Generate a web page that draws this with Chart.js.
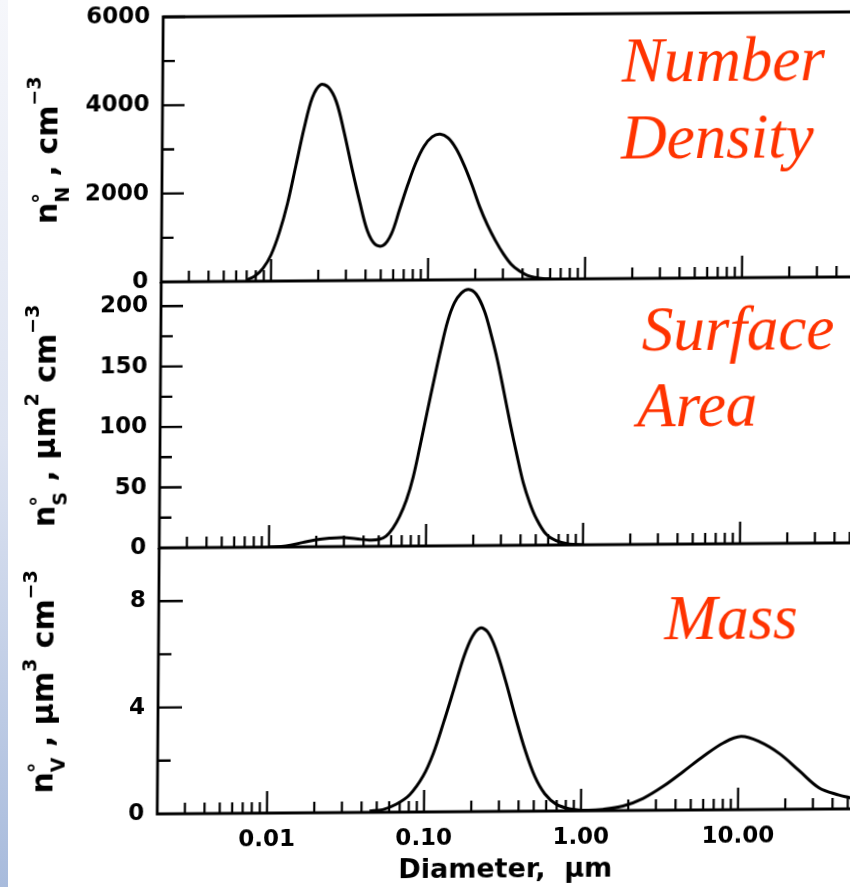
<!DOCTYPE html>
<html><head><meta charset="utf-8">
<script src="https://cdn.jsdelivr.net/npm/chart.js@4.4.0/dist/chart.umd.min.js"></script>
<style>
html,body{margin:0;padding:0;background:#fff;width:850px;height:887px;overflow:hidden;}
#strip{position:absolute;left:0;top:0;width:8px;height:887px;background:linear-gradient(#f6f7fb,#dde3f1 50%,#a8bbdc);}
#wrap{position:absolute;left:0;top:0;width:857px;height:887px;transform-origin:425px 443px;transform:matrix(1,-0.0073,-0.0075,1,0,0);}
canvas.c{position:absolute;left:0;top:0;}
</style></head><body>
<div id="strip"></div>
<div id="wrap">
<canvas id="c1" class="c" width="857" height="887"></canvas>
<canvas id="c2" class="c" width="857" height="887"></canvas>
<canvas id="c3" class="c" width="857" height="887"></canvas>
</div>
<script>
// ---- data (diameter in µm) ----
const diamN = [0.00703,0.00791,0.00889,0.0100,0.01125,0.01265,0.01423,0.0160,0.01799,0.02023,0.02275,0.02559,0.02877,0.03236,0.03639,0.04093,0.04603,0.05176,0.05821,0.06546,0.07362,0.08279,0.09311,0.1047,0.1178,0.1324,0.1489,0.1675,0.1884,0.2118,0.2382,0.2679,0.3013,0.3388,0.3811,0.4285,0.4819,0.5420,0.6095];
const numberDensity = [30,120,290,600,1100,1760,2610,3460,4150,4440,4380,4050,3360,2550,1790,1120,810,790,1050,1600,2160,2660,3030,3240,3300,3210,2970,2600,2150,1650,1230,880,580,340,190,90,40,12,0];

const diamS = [0.01004,0.01283,0.01638,0.01994,0.02424,0.02946,0.03587,0.04358,0.05042,0.05568,0.06138,0.06765,0.07464,0.08226,0.09075,0.1,0.1104,0.1218,0.1343,0.1480,0.1633,0.1816,0.2033,0.2298,0.2534,0.2797,0.3084,0.3403,0.3753,0.4133,0.4560,0.5031,0.5821,0.6745,0.8204,0.9977];
const surfaceArea = [0,0.8,3.6,5.8,7.0,7.5,6.4,5.2,5.8,8.4,14.8,24.5,38,57,83,110,137,163,186,201,209,212,208,194,175,153,127,100,75,52,35,22,9,3.6,0.6,0];

const diamV = [0.0450,0.0547,0.0666,0.0809,0.0984,0.1140,0.1319,0.1529,0.1770,0.2001,0.2237,0.2496,0.2819,0.3266,0.3780,0.4376,0.5065,0.5871,0.6968,0.8475,1.082,1.381,1.853,2.484,3.333,4.470,5.995,8.043,10.38,13.58,18.22,24.42,32.74,43.92,51.6,55];
const massVolume = [0.05,0.1,0.3,0.65,1.35,2.2,3.35,4.6,5.85,6.6,6.9,6.75,6.1,4.9,3.55,2.3,1.3,0.65,0.25,0.08,0.02,0.05,0.17,0.45,0.9,1.45,2.02,2.52,2.75,2.55,2.1,1.45,0.8,0.52,0.42,0.36];

const xTickValues = [0.01, 0.1, 1, 10];
const xTickLabels = ['0.01', '0.10', '1.00', '10.00'];
const yTicksN = [0, 2000, 4000, 6000];
const yMinorN = [1000, 3000, 5000];
const yTicksS = [0, 50, 100, 150, 200];
const yMinorS = [25, 75, 125, 175];
const yTicksV = [0, 4, 8];
const yMinorV = [2, 6];
const xAxisTitle = 'Diameter,  µm';

const FONT = "'DejaVu Sans', sans-serif";
const RED = '#ff3300';

function drawRotTitle(ctx, baseX, centerY, parts) {
  ctx.save();
  ctx.translate(baseX, centerY);
  ctx.rotate(-Math.PI / 2);
  ctx.fillStyle = '#000';
  ctx.textBaseline = 'alphabetic';
  ctx.textAlign = 'left';
  let total = 0;
  parts.forEach(p => { ctx.font = 'bold ' + p.s + 'px ' + FONT; p.w = ctx.measureText(p.t).width; total += p.w; });
  let x = -total / 2;
  parts.forEach(p => {
    ctx.font = 'bold ' + p.s + 'px ' + FONT;
    ctx.fillText(p.t, x, p.dy || 0);
    if (p.ring) {
      ctx.font = 'bold 22px ' + FONT;
      ctx.fillText('°', x - 1, -9);
    }
    x += p.w;
  });
  ctx.restore();
}

const framePlugin = {
  id: 'frame',
  afterDatasetsDraw(chart, args, opts) {
    const ctx = chart.ctx;
    const a = chart.chartArea;
    const xs = chart.scales.x, ys = chart.scales.y;
    ctx.save();
    ctx.strokeStyle = '#000';
    ctx.lineCap = 'butt';
    ctx.lineWidth = 2.8;
    ctx.beginPath();
    ctx.moveTo(a.left, a.top - (opts.topBorder ? 1.4 : 0));
    ctx.lineTo(a.left, a.bottom + 1.4);
    ctx.moveTo(a.left - 1.4, a.bottom);
    ctx.lineTo(a.right, a.bottom);
    if (opts.topBorder) { ctx.moveTo(a.left - 1.4, a.top); ctx.lineTo(a.right, a.top); }
    ctx.stroke();
    ctx.lineWidth = 2.4;
    ctx.beginPath();
    opts.yMajor.forEach(v => {
      if (v === ys.min) return;
      const y = ys.getPixelForValue(v);
      ctx.moveTo(a.left, y); ctx.lineTo(a.left + opts.yMajorLen, y);
    });
    opts.yMinor.forEach(v => {
      const y = ys.getPixelForValue(v);
      ctx.moveTo(a.left, y); ctx.lineTo(a.left + opts.yMinorLen, y);
    });
    ctx.stroke();
    ctx.lineWidth = 2.2;
    ctx.beginPath();
    for (let e = -3; e <= 2; e++) {
      for (let m = 1; m <= 9; m++) {
        const v = m * Math.pow(10, e);
        if (v <= xs.min * 1.001 || v > xs.max) continue;
        const x = xs.getPixelForValue(v);
        const len = m === 1 ? 22 : 11;
        ctx.moveTo(x, a.bottom); ctx.lineTo(x, a.bottom - len);
      }
    }
    ctx.stroke();
    ctx.restore();
    drawRotTitle(ctx, 55, (a.top + a.bottom) / 2, opts.title);
    ctx.save();
    ctx.fillStyle = RED;
    ctx.font = "italic 63px 'Liberation Serif', 'Times New Roman', serif";
    ctx.textBaseline = 'alphabetic';
    ctx.textAlign = 'left';
    opts.label.forEach(l => ctx.fillText(l.t, l.x, l.y));
    ctx.restore();
  }
};

function makePanel(id, xsData, ysData, cfg) {
  return new Chart(document.getElementById(id), {
    type: 'line',
    data: { datasets: [{
      data: xsData.map((x, i) => ({ x: x, y: ysData[i] })),
      borderColor: '#000', borderWidth: 3, pointRadius: 0,
      tension: 0.35, fill: false
    }] },
    options: {
      responsive: false, animation: false, events: [],
      layout: { padding: { left: 0, right: 0, top: cfg.top, bottom: cfg.bottom } },
      plugins: {
        legend: { display: false }, tooltip: { enabled: false },
        frame: cfg.frame
      },
      scales: {
        x: {
          type: 'logarithmic', min: 0.002, max: 55,
          afterFit(s) { s.height = cfg.xh; s.paddingLeft = 0; s.paddingRight = 0; },
          afterBuildTicks(s) { s.ticks = xTickValues.map(v => ({ value: v })); },
          grid: { display: false, drawTicks: false },
          border: { display: false },
          ticks: {
            display: cfg.showX, autoSkip: false, maxRotation: 0, minRotation: 0, padding: 13,
            color: '#000', font: { family: FONT, size: 23, weight: 'bold' },
            callback: (v) => { const i = xTickValues.indexOf(v); return i >= 0 ? xTickLabels[i] : ''; }
          },
          title: {
            display: cfg.showX, text: xAxisTitle, color: '#000',
            font: { family: FONT, size: 27, weight: 'bold' }, padding: { top: 0, bottom: 0 }
          }
        },
        y: {
          type: 'linear', min: 0, max: cfg.ymax,
          afterFit(s) { s.width = 160; s.paddingTop = 0; s.paddingBottom = 0; },
          afterBuildTicks(s) { s.ticks = cfg.yTicks.map(v => ({ value: v })); },
          grid: { display: false, drawTicks: false },
          border: { display: false },
          ticks: { padding: 13, color: '#000', font: { family: FONT, size: 23, weight: 'bold' }, callback: (v) => String(v) }
        }
      }
    },
    plugins: [framePlugin]
  });
}

makePanel('c1', diamN, numberDensity, {
  top: 15, bottom: 887 - 280, xh: 0, showX: false, ymax: 6000, yTicks: yTicksN,
  frame: { topBorder: true, yMajor: yTicksN, yMinor: yMinorN, yMajorLen: 22, yMinorLen: 12,
    title: [{ t: 'n', s: 30 }, { t: 'N', s: 19, dy: 12, ring: true }, { t: ' , ', s: 30 }, { t: 'cm', s: 30 }, { t: '−3', s: 19, dy: -17 }],
    label: [{ t: 'Number', x: 619, y: 83 }, { t: 'Density', x: 619, y: 160 }] }
});
makePanel('c2', diamS, surfaceArea, {
  top: 280, bottom: 887 - 546, xh: 0, showX: false, ymax: 220, yTicks: yTicksS,
  frame: { topBorder: false, yMajor: yTicksS, yMinor: yMinorS, yMajorLen: 22, yMinorLen: 12,
    title: [{ t: 'n', s: 30 }, { t: 'S', s: 19, dy: 12, ring: true }, { t: ' , ', s: 30 }, { t: 'µm', s: 30 }, { t: '2', s: 19, dy: -17 }, { t: ' cm', s: 30 }, { t: '−3', s: 19, dy: -17 }],
    label: [{ t: 'Surface', x: 641, y: 352 }, { t: 'Area', x: 637, y: 428 }] }
});
makePanel('c3', diamV, massVolume, {
  top: 546, bottom: 0, xh: 887 - 812, showX: true, ymax: 10, yTicks: yTicksV,
  frame: { topBorder: false, yMajor: yTicksV, yMinor: yMinorV, yMajorLen: 24, yMinorLen: 13,
    title: [{ t: 'n', s: 30 }, { t: 'V', s: 19, dy: 12, ring: true }, { t: ' , ', s: 30 }, { t: 'µm', s: 30 }, { t: '3', s: 19, dy: -17 }, { t: ' cm', s: 30 }, { t: '−3', s: 19, dy: -17 }],
    label: [{ t: 'Mass', x: 666, y: 641 }] }
});
</script>
</body></html>
